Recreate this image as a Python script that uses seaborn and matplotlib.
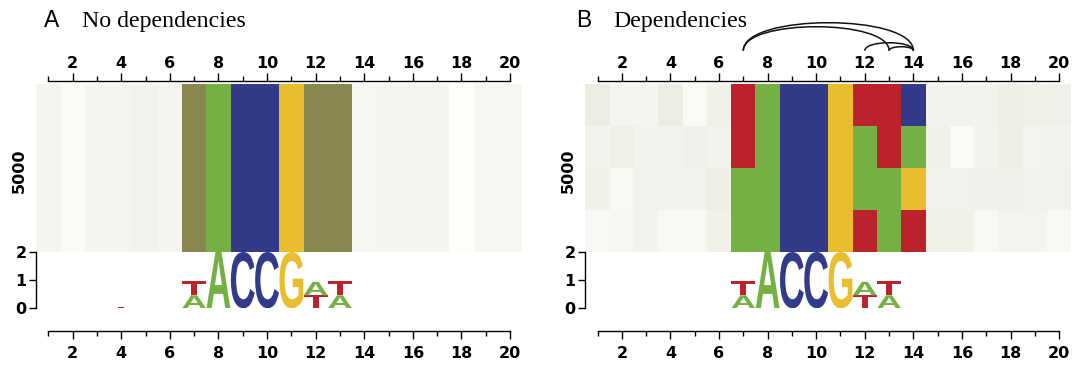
import numpy as np
import matplotlib
matplotlib.use('Agg')
import matplotlib.pyplot as plt
import seaborn as sns
from matplotlib.colors import ListedColormap, to_rgb
from matplotlib.textpath import TextPath
from matplotlib.patches import PathPatch
from matplotlib.font_manager import FontProperties
from matplotlib.transforms import Affine2D
from matplotlib.path import Path as MPath

W, H = 1073, 371

positions = list(range(1, 21))

# nucleotide colours; 'W' is the A/T mixture shown in panel A
letter_colors = {'A': '#74b042', 'C': '#343a8a', 'G': '#e8be2e', 'T': '#bc222c', 'W': '#898650'}
background_tan = (204, 201, 178)

# panel A heatmap: a single consensus row, '.' = background column
heat_a_rows = ['......WACCGWW.......']
shade_a_rows = [
    [0.20, 0.10, 0.19, 0.20, 0.25, 0.19, 0, 0, 0, 0, 0, 0, 0, 0.17, 0.19, 0.19, 0.19, 0.04, 0.18, 0.18],
]

# panel B heatmap: four clusters
heat_b_rows = ['......TACCGTTC......',
               '......TACCGATA......',
               '......AACCGAAG......',
               '......AACCGTAT......']
shade_b_rows = [
    [0.35, 0.20, 0.20, 0.35, 0.12, 0.28, 0, 0, 0, 0, 0, 0, 0, 0, 0.24, 0.24, 0.24, 0.33, 0.28, 0.29],
    [0.23, 0.30, 0.23, 0.23, 0.27, 0.23, 0, 0, 0, 0, 0, 0, 0, 0, 0.28, 0.10, 0.23, 0.31, 0.22, 0.23],
    [0.28, 0.14, 0.25, 0.23, 0.25, 0.33, 0, 0, 0, 0, 0, 0, 0, 0, 0.26, 0.26, 0.27, 0.27, 0.26, 0.25],
    [0.15, 0.18, 0.23, 0.15, 0.15, 0.28, 0, 0, 0, 0, 0, 0, 0, 0, 0.28, 0.28, 0.14, 0.21, 0.21, 0.14],
]

# sequence logo heights (bits) per position
logo_a_A = [0.004, 0.004, 0.00, 0.004, 0.004, 0.004, 0.46, 2.00, 0, 0, 0, 0.48, 0.46, 0.004, 0.004, 0.00, 0.004, 0.004, 0.00, 0.004]
logo_a_C = [0.00, 0.00, 0.00, 0.00, 0.00, 0.00, 0, 0, 2.00, 2.00, 0, 0, 0, 0.00, 0.00, 0.00, 0.00, 0.00, 0.00, 0.00]
logo_a_G = [0.00, 0.00, 0.004, 0.00, 0.00, 0.00, 0, 0, 0, 0, 2.00, 0, 0, 0.00, 0.004, 0.00, 0.00, 0.004, 0.00, 0.00]
logo_a_T = [0.004, 0.004, 0.004, 0.05, 0.004, 0.004, 0.50, 0, 0, 0, 0, 0.46, 0.50, 0.004, 0.004, 0.004, 0.004, 0.01, 0.004, 0.004]

logo_b_A = [0.00, 0.004, 0.004, 0.00, 0.004, 0.00, 0.46, 2.00, 0, 0, 0, 0.48, 0.46, 0.00, 0.004, 0.004, 0.004, 0.00, 0.00, 0.00]
logo_b_C = [0.00, 0.00, 0.00, 0.00, 0.00, 0.00, 0, 0, 2.00, 2.00, 0, 0, 0, 0.00, 0.00, 0.00, 0.00, 0.00, 0.00, 0.00]
logo_b_G = [0.00, 0.00, 0.00, 0.004, 0.00, 0.00, 0, 0, 0, 0, 2.00, 0, 0, 0.00, 0.00, 0.004, 0.00, 0.00, 0.00, 0.00]
logo_b_T = [0.00, 0.004, 0.004, 0.004, 0.004, 0.004, 0.50, 0, 0, 0, 0, 0.46, 0.50, 0.00, 0.004, 0.004, 0.004, 0.00, 0.00, 0.004]

# dependency arcs in panel B
dep_pairs = [(7, 13), (7, 14), (12, 14), (13, 14)]

TICK_FONT = dict(family='DejaVu Sans', weight='bold', size=11.5)
LETTER_PROP = FontProperties(family='Liberation Sans', weight='bold')


def fig_box(x0, y0, x1, y1):
    return [x0 / W, 1 - y1 / H, (x1 - x0) / W, (y1 - y0) / H]


def cell_color(code, shade):
    if code == '.':
        tan = np.array(background_tan) / 255
        return tuple((1 - shade) * np.ones(3) + shade * tan)
    return to_rgb(letter_colors[code])


def draw_heat(ax, rows, shades):
    grid = [[cell_color(c, s) for c, s in zip(r, sr)] for r, sr in zip(rows, shades)]
    palette = []
    idx = np.zeros((len(rows), len(positions)), dtype=int)
    for i, r in enumerate(grid):
        for j, col in enumerate(r):
            if col not in palette:
                palette.append(col)
            idx[i, j] = palette.index(col)
    sns.heatmap(idx, ax=ax, cmap=ListedColormap(palette), vmin=-0.5, vmax=len(palette) - 0.5,
                cbar=False, xticklabels=False, yticklabels=False, linewidths=0)
    ax.set_xlabel('')
    ax.set_ylabel('')


def draw_letter(ax, letter, x, y0, h, color, width=0.98):
    tp = TextPath((0, 0), letter, size=1, prop=LETTER_PROP)
    bb = tp.get_extents()
    tr = (Affine2D().translate(-bb.x0, -bb.y0)
          .scale(width / bb.width, h / bb.height)
          .translate(x - width / 2, y0))
    ax.add_patch(PathPatch(tr.transform_path(tp), facecolor=color, edgecolor='none'))


def draw_logo(ax, hA, hC, hG, hT):
    for k, p in enumerate(positions):
        stack = sorted([('A', hA[k]), ('C', hC[k]), ('G', hG[k]), ('T', hT[k])], key=lambda t: t[1])
        y = 0.0
        for letter, h in stack:
            if h <= 0:
                continue
            draw_letter(ax, letter, p, y, h, letter_colors[letter])
            y += h
    ax.set_xlim(0.5, 20.5)
    ax.set_ylim(0, 2)
    for s in ['top', 'right', 'bottom']:
        ax.spines[s].set_visible(False)
    ax.spines['left'].set_bounds(0, 2)
    ax.spines['left'].set_linewidth(1.0)
    ax.set_xticks([])
    ax.set_yticks([0, 1, 2])
    ax.set_yticklabels(['0', '1', '2'], fontdict=TICK_FONT)
    ax.tick_params(axis='y', direction='out', length=5, width=1.0, pad=2)
    ax.patch.set_visible(False)


def ruler(box, top):
    ax = fig.add_axes(box)
    ax.set_xlim(0.5, 20.5)
    ax.set_ylim(0, 1)
    for s in ax.spines.values():
        s.set_visible(False)
    sp = 'top' if top else 'bottom'
    ax.spines[sp].set_visible(True)
    ax.spines[sp].set_bounds(1, 20)
    ax.spines[sp].set_linewidth(1.0)
    ax.set_yticks([])
    ax.set_xticks(positions[1::2])
    ax.set_xticks(positions[0::2], minor=True)
    ax.set_xticklabels([str(p) for p in positions[1::2]], fontdict=TICK_FONT)
    ax.tick_params(axis='x', which='both', direction='out', width=1.0,
                   top=top, bottom=not top, labeltop=top, labelbottom=not top)
    ax.tick_params(axis='x', which='major', length=6, pad=1.5 if top else 5)
    ax.tick_params(axis='x', which='minor', length=3.6)
    ax.patch.set_visible(False)
    return ax


def draw_arcs(ax, pairs, step=4.0):
    for a, b in pairs:
        h = step * (b - a)
        verts = [(a, 0), (a, h * 4 / 3), (b, h * 4 / 3), (b, 0)]
        codes = [MPath.MOVETO, MPath.CURVE4, MPath.CURVE4, MPath.CURVE4]
        ax.add_patch(PathPatch(MPath(verts, codes), facecolor='none', edgecolor='#111111', lw=1.1))
    ax.set_xlim(0.5, 20.5)
    ax.set_ylim(0, 33)
    ax.axis('off')


fig = plt.figure(figsize=(W / 100, H / 100), dpi=100)

panels = [
    dict(x0=36.2, x1=522.2, rows=heat_a_rows, shades=shade_a_rows,
         logo=(logo_a_A, logo_a_C, logo_a_G, logo_a_T), letter='A', title='No dependencies',
         lx=44, tx=82),
    dict(x0=585.4, x1=1071.3, rows=heat_b_rows, shades=shade_b_rows,
         logo=(logo_b_A, logo_b_C, logo_b_G, logo_b_T), letter='B', title='Dependencies',
         lx=576, tx=613),
]

for pn in panels:
    x0, x1 = pn['x0'], pn['x1']
    ax_h = fig.add_axes(fig_box(x0, 84, x1, 252))
    draw_heat(ax_h, pn['rows'], pn['shades'])
    ax_l = fig.add_axes(fig_box(x0, 252, x1, 308.3))
    draw_logo(ax_l, *pn['logo'])
    ruler(fig_box(x0, 81.3, x1, 82.3), top=True)
    ruler(fig_box(x0, 329.7, x1, 330.7), top=False)
    fig.text((x0 - 17) / W, 1 - 171 / H, '5000', rotation=90, ha='center', va='center', **TICK_FONT)
    fig.text(pn['lx'] / W, 1 - 27 / H, pn['letter'], ha='left', va='baseline',
             family='Liberation Sans', size=16.5)
    fig.text(pn['tx'] / W, 1 - 27 / H, pn['title'], ha='left', va='baseline',
             family='Liberation Serif', size=17.2)

ax_arc = fig.add_axes(fig_box(panels[1]['x0'], 17.7, panels[1]['x1'], 50.7))
draw_arcs(ax_arc, dep_pairs)

fig.savefig('out.png', dpi=100)
